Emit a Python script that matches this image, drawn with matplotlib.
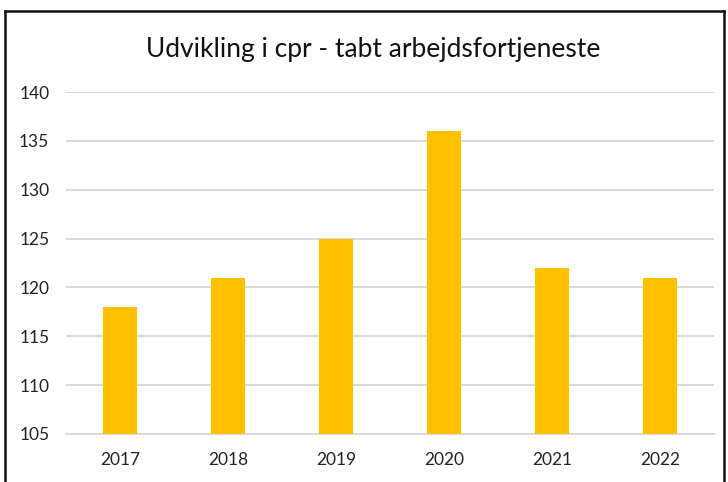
import matplotlib.pyplot as plt
from matplotlib.lines import Line2D

years = ["2017", "2018", "2019", "2020", "2021", "2022"]
counts = [118, 121, 125, 136, 122, 121]
yticks = [105, 110, 115, 120, 125, 130, 135, 140]

W, H = 728, 482
plt.rcParams['font.family'] = ['Lato', 'DejaVu Sans']

fig = plt.figure(figsize=(W / 100, H / 100), dpi=100)
ax = fig.add_axes([66 / W, 1 - 434 / H, (714 - 66) / W, (434 - 92) / H])

x = range(len(years))
ax.bar(x, [c - 105 for c in counts], bottom=105, width=0.315, color="#FFC000", zorder=3)

ax.set_xlim(-0.5, len(years) - 0.5)
ax.set_ylim(105, 140)
ax.set_yticks(yticks)
ax.set_yticklabels([str(t) for t in yticks], fontsize=12.5, color="#222222")
ax.set_xticks(list(x))
ax.set_xticklabels(years, fontsize=12.5, color="#222222")
ax.tick_params(length=0)
ax.tick_params(axis="y", pad=12)
ax.tick_params(axis="x", pad=13)
ax.grid(axis="y", color="#D9D9D9", linewidth=1.5, zorder=0)
for side in ["top", "right", "left"]:
    ax.spines[side].set_visible(False)
ax.spines["bottom"].set_color("#D9D9D9")
ax.spines["bottom"].set_linewidth(1.5)

fig.text(373 / W, 1 - 57 / H, "Udvikling i cpr - tabt arbejdsfortjeneste",
         ha="center", va="baseline", fontsize=19, color="#111111")

# frame around the chart (bottom cut off)
def px(xp, yp):
    return xp / W, 1 - yp / H

for (x0, y0), (x1, y1) in [((5, 11), (724, 11)), ((5, 11), (5, 482)), ((724, 11), (724, 482))]:
    a, b = px(x0, y0)
    c, d = px(x1, y1)
    fig.add_artist(Line2D([a, c], [b, d], color="#111111", linewidth=1.8, transform=fig.transFigure))

fig.savefig("out.png", dpi=100)
